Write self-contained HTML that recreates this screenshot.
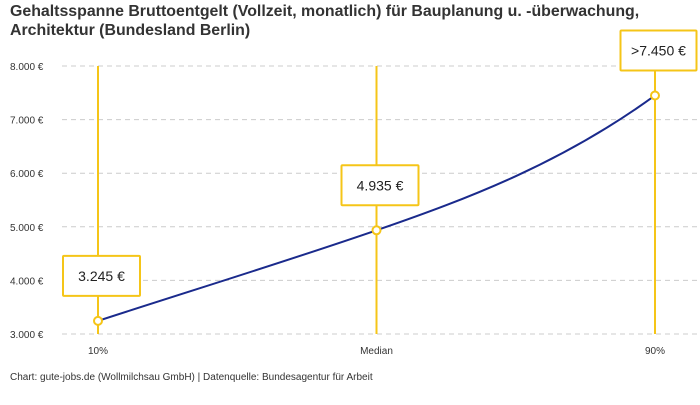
<!DOCTYPE html>
<html><head><meta charset="utf-8"><style>
body{margin:0;background:#fff;width:700px;height:400px;overflow:hidden;font-family:"Liberation Sans",sans-serif}
</style></head><body>
<svg width="700" height="400" xmlns="http://www.w3.org/2000/svg">
<text x="10" y="16" font-size="15.9" font-weight="bold" fill="#333">Gehaltsspanne Bruttoentgelt (Vollzeit, monatlich) für Bauplanung u. -überwachung,</text>
<text x="10" y="35" font-size="15.9" font-weight="bold" fill="#333">Architektur (Bundesland Berlin)</text>
<g id="grid"></g><g id="marks"></g>
<text x="10" y="380" font-size="10" fill="#333">Chart: gute-jobs.de (Wollmilchsau GmbH) | Datenquelle: Bundesagentur für Arbeit</text>
</svg>
<script>
const categories=["10%","Median","90%"];
const values=[3245,4935,7450];
const labels=["3.245 €","4.935 €",">7.450 €"];
const yTicks=[3000,4000,5000,6000,7000,8000];
const yTickLabels=["3.000 €","4.000 €","5.000 €","6.000 €","7.000 €","8.000 €"];
const NS="http://www.w3.org/2000/svg";
const x=i=>98+i*278.5;
const y=v=>334-(v-3000)*0.0536;
function mk(p,t,a){const e=document.createElementNS(NS,t);for(const k in a)e.setAttribute(k,a[k]);p.appendChild(e);return e;}
const g=document.getElementById('grid'),m=document.getElementById('marks');
yTicks.forEach((v,i)=>{
 const l=mk(g,'line',{x1:62,x2:700,y1:y(v),y2:y(v),stroke:'#ccc','stroke-dasharray':'5,4'});
 
 
 const t=mk(g,'text',{x:10,y:y(v)+4,'font-size':10,fill:'#333'});t.textContent=yTickLabels[i];
 
 
});
categories.forEach((c,i)=>{
 const l=mk(g,'line',{x1:x(i),x2:x(i),y1:66,y2:334,stroke:'#f5c518','stroke-width':2});
 
 
 const t=mk(g,'text',{x:x(i),y:354,'font-size':10,fill:'#333','text-anchor':'middle'});t.textContent=c;
 
 
});
// cubic Hermite: tangents derived from neighbouring secants
const n=values.length;
const sec=[];for(let i=0;i<n-1;i++)sec.push(values[i+1]-values[i]);
const tan=values.map((v,i)=>{
 if(i===0)return sec[0];
 if(i===n-1)return sec[n-2]*1.5;
 return sec[i-1]*1.06;
});
const step=x(1)-x(0);
let d=`M${x(0)},${y(values[0])}`;
for(let i=0;i<n-1;i++){
 const c1x=x(i)+step/3,c1y=y(values[i]+tan[i]/3);
 const c2x=x(i+1)-step/3,c2y=y(values[i+1]-tan[i+1]/3);
 d+=` C${c1x},${c1y} ${c2x},${c2y} ${x(i+1)},${y(values[i+1])}`;
}
const path=mk(m,'path',{d:d,fill:'none',stroke:'#1a2a8c','stroke-width':2});


values.forEach((v,i)=>{
 const px=x(i),py=y(v);
 const c=mk(m,'circle',{cx:px,cy:py,r:4,fill:'#fff',stroke:'#f5c518','stroke-width':2});
 
 
 const w=i==2?76:77;
 const r=mk(m,'rect',{x:px-w/2+3.5,y:py-65,width:w,height:40,fill:'#fff',stroke:'#f5c518','stroke-width':2,rx:1});
 
 
 const t=mk(m,'text',{x:px+3.5,y:py-40,'font-size':14,fill:'#222','text-anchor':'middle'});t.textContent=labels[i];
 
 
});
</script>
</body></html>
